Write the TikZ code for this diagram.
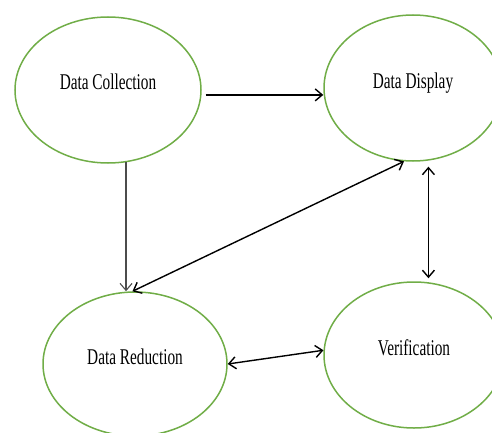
\documentclass[tikz,border=0pt]{standalone}
\usepackage{fontspec}
\setmainfont[FakeStretch=0.68]{Liberation Serif}
\usetikzlibrary{shapes.geometric,arrows.meta}
\definecolor{stagegreen}{RGB}{112,173,71}
\begin{document}
\begin{tikzpicture}[x=1pt,y=1pt,font=\fontsize{22.5pt}{27pt}\selectfont,
  >={Straight Barb[length=7pt,width=12pt]},
  stage/.style={ellipse,draw=stagegreen,line width=1.5pt,inner sep=0pt,text height=15pt,text depth=15pt},
  link/.style={line width=1.4pt}]

\useasboundingbox (0,0) rectangle (492,432);

\node[stage,minimum width=186pt,minimum height=146pt] (dc) at (108,342) {Data Collection};

\node[stage,minimum width=178pt,minimum height=146pt] (dd) at (413,344) {Data Display};

\node[stage,minimum width=184pt,minimum height=144pt] (dr) at (135,68) {Data Reduction};

\node[stage,minimum width=180pt,minimum height=146pt] (ve) at (414,77) {Verification};

\draw[link,->,shorten <=4pt] (dc.-3) -- (dc.-3 -| dd.west);

\draw[->,line width=1.1pt,black!70] (dc.-76) -- (dc.-76 |- dr.north);

\draw[link,<->] (dr.92) -- (dd.263);

\draw[link,<->,shorten <=6pt,shorten >=3pt] (dd.-78) -- (dd.-78 |- ve.north);

\draw[link,<->] (dr.east) -- (ve.177);

\end{tikzpicture}
\end{document}
